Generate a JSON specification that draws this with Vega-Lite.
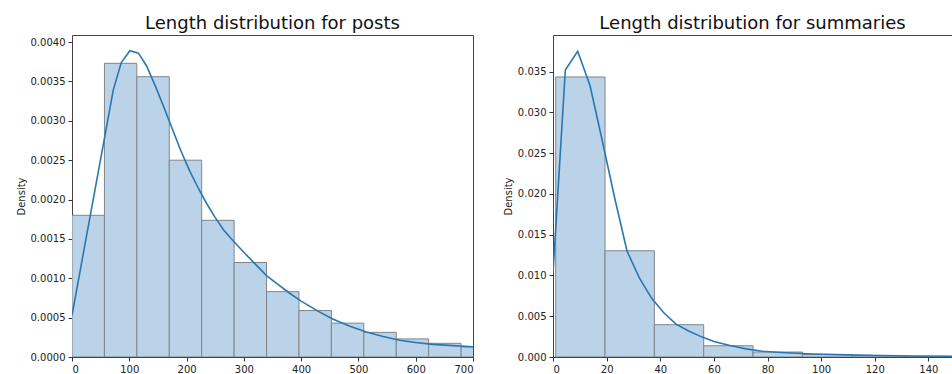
{
  "$schema": "https://vega.github.io/schema/vega-lite/v6.json",
  "padding": {"left": 15, "top": 14, "right": 0, "bottom": 0},
  "spacing": 28,
  "config": {
    "font": "DejaVu Sans",
    "view": {"stroke": "#444", "strokeWidth": 1},
    "axis": {"grid": false, "domain": false, "tickColor": "#333", "tickSize": 4, "labelFont": "DejaVu Sans", "labelFontSize": 10, "labelColor": "#222", "titleFont": "DejaVu Sans", "titleFontSize": 10, "titleFontWeight": "normal", "titleColor": "#222", "labelPadding": 3},
    "title": {"font": "DejaVu Sans", "fontSize": 18, "fontWeight": "normal", "color": "#111", "offset": 2}
  },
  "datasets": {
    "posts_bins": [
      {"start": 0, "end": 56.6, "density": 0.0018},
      {"start": 56.6, "end": 113.2, "density": 0.00373},
      {"start": 113.2, "end": 169.8, "density": 0.00356},
      {"start": 169.8, "end": 226.4, "density": 0.0025},
      {"start": 226.4, "end": 283.0, "density": 0.001736},
      {"start": 283.0, "end": 339.6, "density": 0.0012},
      {"start": 339.6, "end": 396.2, "density": 0.00083},
      {"start": 396.2, "end": 452.8, "density": 0.00059},
      {"start": 452.8, "end": 509.4, "density": 0.00043},
      {"start": 509.4, "end": 566.0, "density": 0.000313},
      {"start": 566.0, "end": 622.6, "density": 0.00023},
      {"start": 622.6, "end": 679.2, "density": 0.000174},
      {"start": 679.2, "end": 735.8, "density": 0.000127}
    ],
    "posts_kde": [
      {"x": 0, "y": 0.00053},
      {"x": 36, "y": 0.00196},
      {"x": 58, "y": 0.00283},
      {"x": 72, "y": 0.00339},
      {"x": 86, "y": 0.00374},
      {"x": 101, "y": 0.00389},
      {"x": 116, "y": 0.00386},
      {"x": 130, "y": 0.0037},
      {"x": 145, "y": 0.00345},
      {"x": 160, "y": 0.00318},
      {"x": 175, "y": 0.0029},
      {"x": 190, "y": 0.00262},
      {"x": 205, "y": 0.00237},
      {"x": 220, "y": 0.00215},
      {"x": 235, "y": 0.00195},
      {"x": 250, "y": 0.00177},
      {"x": 265, "y": 0.00161},
      {"x": 282, "y": 0.00147},
      {"x": 300, "y": 0.00133},
      {"x": 320, "y": 0.00118},
      {"x": 340, "y": 0.00103},
      {"x": 360, "y": 0.00092},
      {"x": 380, "y": 0.00081},
      {"x": 400, "y": 0.00071},
      {"x": 430, "y": 0.00058},
      {"x": 456, "y": 0.00048},
      {"x": 485, "y": 0.00039},
      {"x": 514, "y": 0.000317},
      {"x": 543, "y": 0.00026},
      {"x": 572, "y": 0.000212},
      {"x": 600, "y": 0.000185},
      {"x": 630, "y": 0.00016},
      {"x": 665, "y": 0.000145},
      {"x": 700, "y": 0.000131}
    ],
    "sum_bins": [
      {"start": 1, "end": 19.4, "density": 0.03435},
      {"start": 19.4, "end": 37.8, "density": 0.01303},
      {"start": 37.8, "end": 56.2, "density": 0.00396},
      {"start": 56.2, "end": 74.6, "density": 0.00138},
      {"start": 74.6, "end": 93.0, "density": 0.00061},
      {"start": 93.0, "end": 111.4, "density": 0.0003},
      {"start": 111.4, "end": 129.8, "density": 0.00015},
      {"start": 129.8, "end": 148.2, "density": 0.00008}
    ],
    "sum_kde": [
      {"x": 0, "y": 0.0103},
      {"x": 4.6, "y": 0.0352},
      {"x": 9.2, "y": 0.0375},
      {"x": 13.8, "y": 0.0333},
      {"x": 18.4, "y": 0.0265},
      {"x": 23, "y": 0.0195},
      {"x": 27.6, "y": 0.013},
      {"x": 32.2, "y": 0.0097},
      {"x": 36.8, "y": 0.0072},
      {"x": 41.4, "y": 0.0054},
      {"x": 46, "y": 0.004},
      {"x": 50.6, "y": 0.0032},
      {"x": 55.2, "y": 0.0025},
      {"x": 60, "y": 0.0019},
      {"x": 66, "y": 0.0014},
      {"x": 72, "y": 0.001},
      {"x": 78, "y": 0.0007},
      {"x": 85, "y": 0.00055},
      {"x": 97, "y": 0.00037},
      {"x": 110, "y": 0.00026},
      {"x": 122, "y": 0.00018},
      {"x": 135, "y": 0.00013},
      {"x": 149, "y": 0.0001}
    ]
  },
  "hconcat": [
    {
      "width": 401,
      "height": 322,
      "title": "Length distribution for posts",
      "layer": [
        {
          "data": {"name": "posts_bins"},
          "mark": {"type": "rect", "fill": "#bad3e8", "stroke": "#80858a", "strokeWidth": 1, "clip": true},
          "encoding": {
            "x": {"field": "start", "type": "quantitative", "scale": {"domain": [0, 700], "nice": false}, "axis": {"values": [0, 100, 200, 300, 400, 500, 600, 700], "title": null}},
            "x2": {"field": "end"},
            "y": {"field": "density", "type": "quantitative", "scale": {"domain": [0, 0.00409], "nice": false}, "axis": {"values": [0, 0.0005, 0.001, 0.0015, 0.002, 0.0025, 0.003, 0.0035, 0.004], "format": ".4f", "title": "Density"}},
            "y2": {"datum": 0}
          }
        },
        {
          "data": {"name": "posts_kde"},
          "mark": {"type": "line", "color": "#2a77b0", "strokeWidth": 1.6, "clip": true},
          "encoding": {
            "x": {"field": "x", "type": "quantitative"},
            "y": {"field": "y", "type": "quantitative"}
          }
        }
      ]
    },
    {
      "width": 399,
      "height": 322,
      "title": "Length distribution for summaries",
      "layer": [
        {
          "data": {"name": "sum_bins"},
          "mark": {"type": "rect", "fill": "#bad3e8", "stroke": "#80858a", "strokeWidth": 1, "clip": true},
          "encoding": {
            "x": {"field": "start", "type": "quantitative", "scale": {"domain": [0, 148.8], "nice": false}, "axis": {"values": [0, 20, 40, 60, 80, 100, 120, 140], "title": null}},
            "x2": {"field": "end"},
            "y": {"field": "density", "type": "quantitative", "scale": {"domain": [0, 0.0395], "nice": false}, "axis": {"values": [0, 0.005, 0.01, 0.015, 0.02, 0.025, 0.03, 0.035], "format": ".3f", "title": "Density"}},
            "y2": {"datum": 0}
          }
        },
        {
          "data": {"name": "sum_kde"},
          "mark": {"type": "line", "color": "#2a77b0", "strokeWidth": 1.6, "clip": true},
          "encoding": {
            "x": {"field": "x", "type": "quantitative"},
            "y": {"field": "y", "type": "quantitative"}
          }
        }
      ]
    }
  ]
}
